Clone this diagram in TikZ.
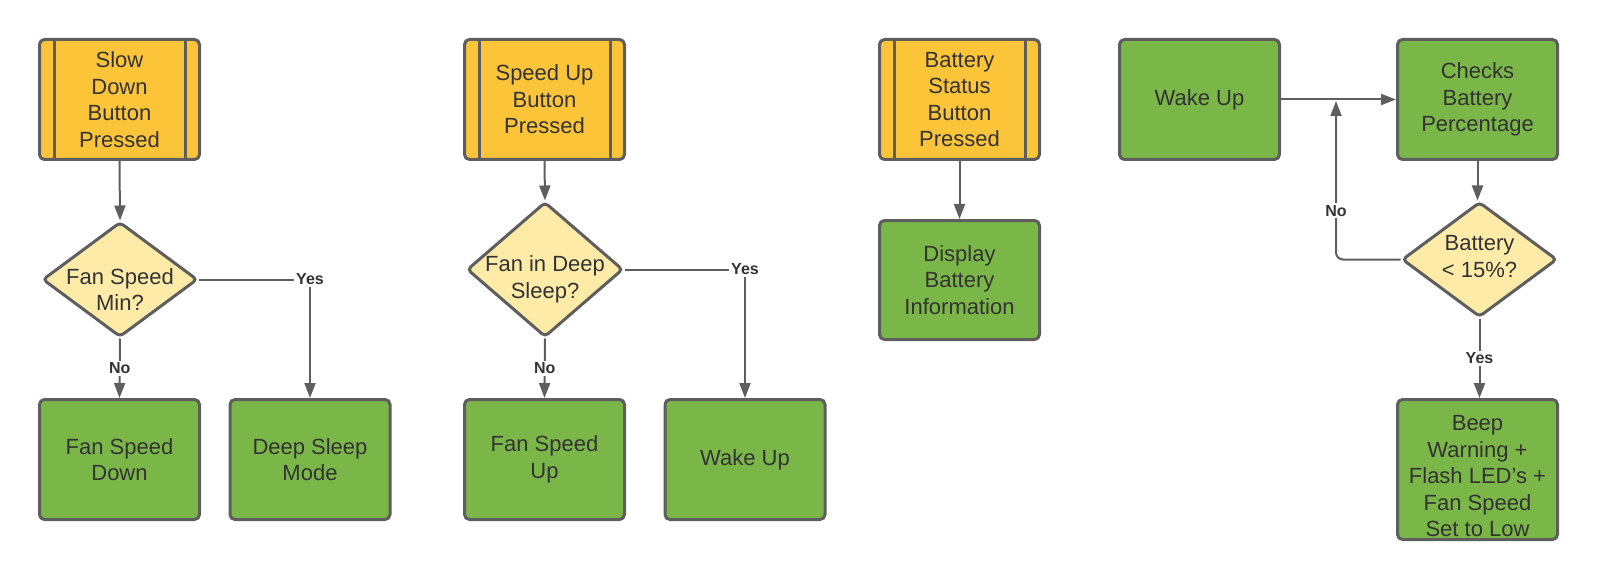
\documentclass[tikz,border=0pt]{standalone}
\usepackage{fontspec}
\setmainfont{Liberation Sans}
\usetikzlibrary{shapes.geometric,arrows.meta}
\definecolor{strokec}{HTML}{5E5E5E}
\definecolor{textc}{HTML}{333333}
\definecolor{orangec}{HTML}{FCC438}
\definecolor{greenc}{HTML}{7AB648}
\definecolor{yellowc}{HTML}{FFEBA8}
\tikzset{
  base/.style={draw=strokec, line width=3pt, rounded corners=5pt, inner sep=0pt,
    minimum width=160pt, minimum height=120pt, align=center, text=textc,
    font=\fontsize{22}{26.5}\selectfont},
  evt/.style={base, fill=orangec},
  act/.style={base, fill=greenc},
  dia/.style={shape=diamond, draw=strokec, line width=3pt, rounded corners=4pt,
    fill=yellowc, inner sep=0pt},
  txt/.style={align=center, text=textc, font=\fontsize{22}{26.5}\selectfont, inner sep=0pt},
  bar/.style={draw=strokec, line width=3pt},
  conn/.style={draw=strokec, line width=2pt, -{Triangle[length=15pt,width=11pt]}},
  lbl/.style={fill=white, font=\bfseries\fontsize{16}{18}\selectfont, text=textc, inner sep=2pt}
}
\begin{document}
\begin{tikzpicture}[x=1pt,y=-1pt]
\useasboundingbox (0,0) rectangle (1600,580);
% ---- Column 1
\node[evt] (s1) at (119.5,99.5) {Slow\\Down\\Button\\Pressed};
\draw[bar] ([xshift=16pt]s1.north west) -- ([xshift=16pt]s1.south west);
\draw[bar] ([xshift=-16pt]s1.north east) -- ([xshift=-16pt]s1.south east);
\node[dia, minimum width=155pt, minimum height=115pt] (d1) at (120,279.5) {};
\node[txt] (t1) at ([yshift=-10pt]d1.center) {Fan Speed\\Min?};
\node[act] (a1) at (119.5,459.5) {Fan Speed\\Down};
\node[act] (a2) at (310,459.5) {Deep Sleep\\Mode};
\draw[conn] (s1.south) -- (d1.north);
\draw[conn] (d1.south) -- node[lbl, pos=0.5]{No} (a1.north);
\draw[conn] (d1.east) -| node[lbl, pos=0.5]{Yes} (a2.north);
% ---- Column 2
\node[evt] (s2) at (544.5,99.5) {Speed Up\\Button\\Pressed};
\draw[bar] ([xshift=16pt]s2.north west) -- ([xshift=16pt]s2.south west);
\draw[bar] ([xshift=-16pt]s2.north east) -- ([xshift=-16pt]s2.south east);
\node[dia, minimum width=156pt, minimum height=135pt] (d2) at (545,269.5) {};
\node[txt] (t2) at ([yshift=-10pt]d2.center) {Fan in Deep\\Sleep?};
\node[act] (a3) at (544.5,459.5) {Fan Speed\\Up};
\node[act] (a4) at (745,459.5) {Wake Up};
\draw[conn] (s2.south) -- (d2.north);
\draw[conn] (d2.south) -- node[lbl, pos=0.5]{No} (a3.north);
\draw[conn] (d2.east) -| node[lbl, pos=0.5]{Yes} (a4.north);
% ---- Column 3
\node[evt] (s3) at (959.5,99.5) {Battery\\Status\\Button\\Pressed};
\draw[bar] ([xshift=16pt]s3.north west) -- ([xshift=16pt]s3.south west);
\draw[bar] ([xshift=-16pt]s3.north east) -- ([xshift=-16pt]s3.south east);
\node[act, minimum height=119pt] (a5) at (959.5,280) {Display\\Battery\\Information};
\draw[conn] (s3.south) -- (a5.north);
% ---- Column 4
\node[act] (w1) at (1199.5,99.5) {Wake Up};
\node[act] (c1) at (1477.5,99.5) {Checks\\Battery\\Percentage};
\node[dia, minimum width=155pt, minimum height=115pt] (d3) at (1479.5,259.5) {};
\node[txt] (t3) at ([yshift=3pt]d3.center) {Battery\\< 15\%?};
\node[act, minimum height=140pt, text height=0pt] (a6) at (1477.5,469.5) {};
\node[txt] (t6) at ([yshift=-7pt]a6.center) {Beep\\Warning +\\Flash LED's +\\Fan Speed\\Set to Low};
\coordinate (j1) at (1336,101);
\draw[conn] (w1.east) -- (c1.west);
\draw[conn] (c1.south) -- (c1.south |- d3.north);
\draw[conn, rounded corners=7pt] (d3.west) -| node[lbl, pos=0.654, sharp corners]{No} (j1);
\draw[conn] (d3.south) -- node[lbl, pos=0.5]{Yes} (d3.south |- a6.north);
\end{tikzpicture}
\end{document}
